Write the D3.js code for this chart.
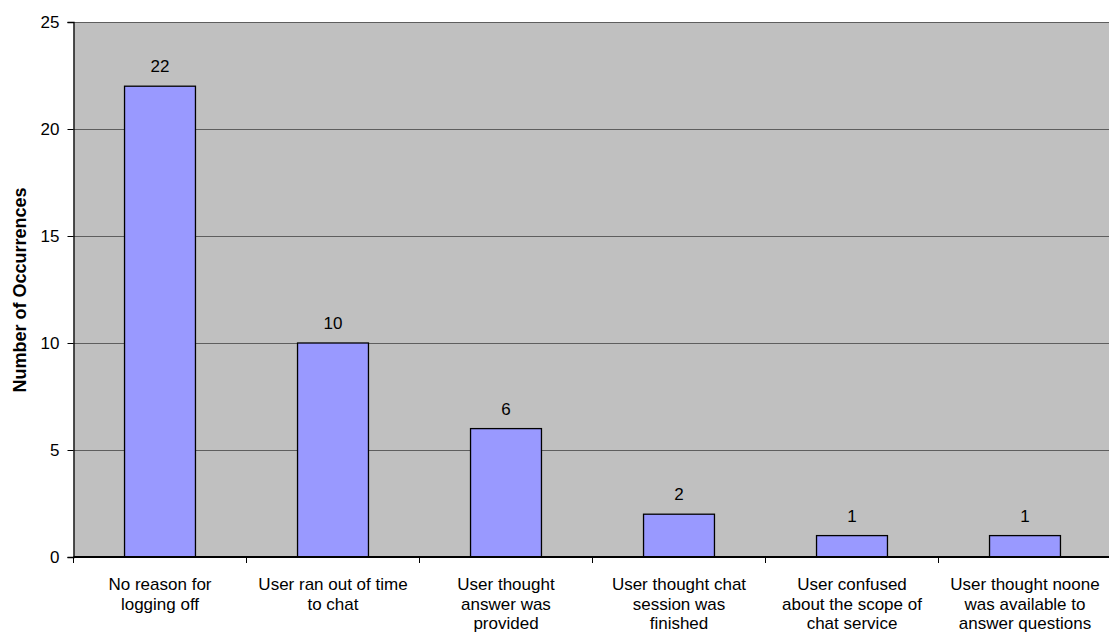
<!DOCTYPE html>
<html>
<head>
<meta charset="utf-8">
<script src="https://cdn.jsdelivr.net/npm/d3@7"></script>
<style>
  html, body { margin: 0; padding: 0; background: #fff; }
  svg { display: block; font-family: "Liberation Sans", Arial, sans-serif; }
</style>
</head>
<body>
<svg id="chart" width="1109" height="641"></svg>
<script>
// Reasons users gave for leaving a chat session
const categories = [
  ["No reason for", "logging off"],
  ["User ran out of time", "to chat"],
  ["User thought", "answer was", "provided"],
  ["User thought chat", "session was", "finished"],
  ["User confused", "about the scope of", "chat service"],
  ["User thought noone", "was available to", "answer questions"]
];
const occurrences = [22, 10, 6, 2, 1, 1];
const yTicks = [0, 5, 10, 15, 20, 25];
const yTitle = "Number of Occurrences";

const svg = d3.select("#chart");
const margin = { left: 73.5, top: 22, bottom: 557, right: 1111.5 };
const fontSize = 17;

const x = d3.scaleBand()
  .domain(d3.range(categories.length))
  .range([margin.left, margin.right])
  .paddingInner(0.59)
  .paddingOuter(0.295);

const y = d3.scaleLinear().domain([0, 25]).range([margin.bottom, margin.top]);

// plot area
svg.append("rect")
  .attr("x", margin.left).attr("y", margin.top)
  .attr("width", margin.right - margin.left)
  .attr("height", margin.bottom - margin.top)
  .attr("fill", "#c0c0c0");

// horizontal gridlines
svg.append("g").selectAll("line")
  .data(yTicks.filter(d => d > 0))
  .join("line")
  .attr("x1", margin.left).attr("x2", margin.right)
  .attr("y1", d => Math.round(y(d)) + 0.5).attr("y2", d => Math.round(y(d)) + 0.5)
  .attr("stroke", "#5e5e5e").attr("stroke-width", 1);

// bars
svg.append("g").selectAll("rect")
  .data(occurrences)
  .join("rect")
  .attr("x", (d, i) => x(i))
  .attr("y", d => y(d))
  .attr("width", x.bandwidth())
  .attr("height", d => y(0) - y(d))
  .attr("fill", "#9999ff")
  .attr("stroke", "#000")
  .attr("stroke-width", 1.3);

// value labels
svg.append("g").selectAll("text")
  .data(occurrences)
  .join("text")
  .attr("x", (d, i) => x(i) + x.bandwidth() / 2)
  .attr("y", d => y(d) - 14)
  .attr("text-anchor", "middle")
  .attr("font-size", fontSize)
  .attr("fill", "#000")
  .text(d => d);

// y axis
const yAxis = d3.axisLeft(y).tickValues(yTicks).tickSize(6).tickPadding(8);
const gy = svg.append("g")
  .attr("transform", `translate(${margin.left},0)`)
  .call(yAxis);
gy.select(".domain").attr("stroke", "#000").attr("stroke-width", 1.3);
gy.selectAll(".tick line").attr("stroke", "#000");
gy.selectAll(".tick text").attr("font-size", fontSize).attr("fill", "#000")
  .attr("font-family", "Liberation Sans, Arial, sans-serif");

// x axis: ticks between categories
const xAxisLine = svg.append("g");
xAxisLine.append("line")
  .attr("x1", margin.left).attr("x2", margin.right)
  .attr("y1", y(0)).attr("y2", y(0))
  .attr("stroke", "#000").attr("stroke-width", 2);
xAxisLine.selectAll("line.tick")
  .data(d3.range(categories.length + 1))
  .join("line")
  .attr("class", "tick")
  .attr("x1", i => margin.left + i * x.step())
  .attr("x2", i => margin.left + i * x.step())
  .attr("y1", y(0)).attr("y2", y(0) + 6)
  .attr("stroke", "#000");

// category labels
const labels = svg.append("g").selectAll("text")
  .data(categories)
  .join("text")
  .attr("text-anchor", "middle")
  .attr("font-size", fontSize)
  .attr("fill", "#000");
labels.each(function (lines, i) {
  d3.select(this).selectAll("tspan")
    .data(lines)
    .join("tspan")
    .attr("x", x(i) + x.bandwidth() / 2)
    .attr("y", (d, j) => 590 + j * 19.5)
    .text(d => d);
});

// y axis title
svg.append("text")
  .attr("transform", `translate(26,290) rotate(-90)`)
  .attr("text-anchor", "middle")
  .attr("font-size", 18)
  .attr("font-weight", "bold")
  .attr("fill", "#000")
  .text(yTitle);
</script>
</body>
</html>
